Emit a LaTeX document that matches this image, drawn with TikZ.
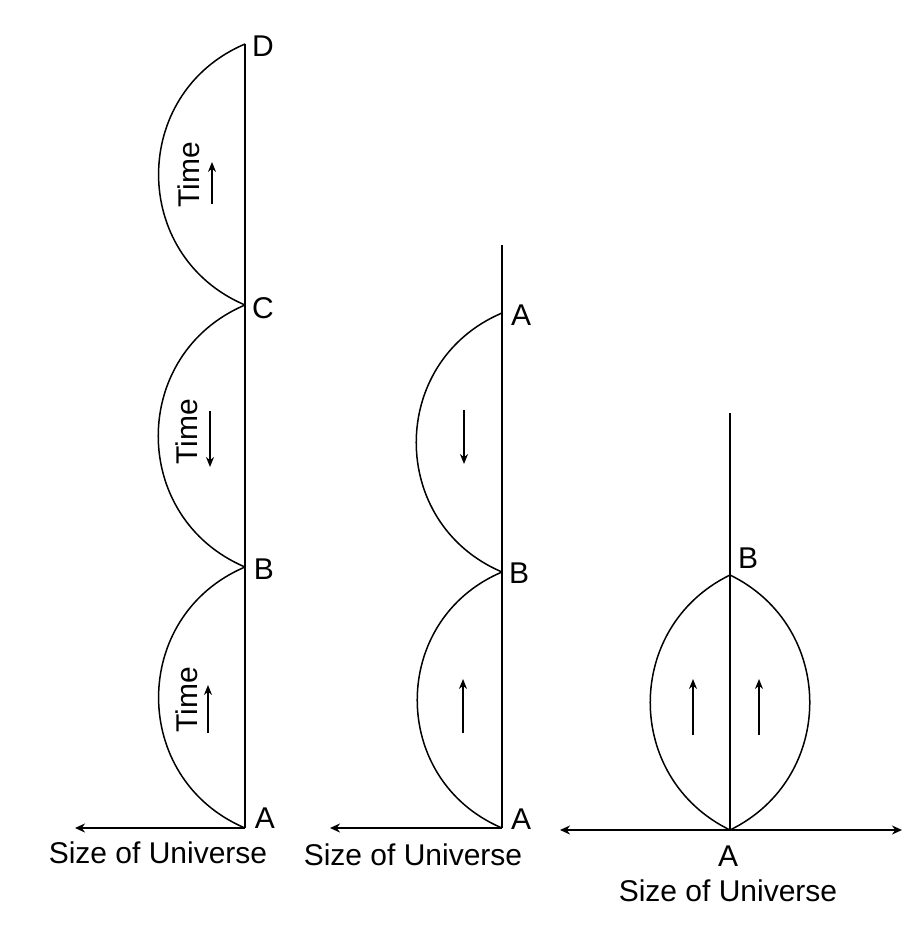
\documentclass[tikz,border=0pt]{standalone}
\usepackage{fontspec}
\setmainfont{Liberation Sans}
\usetikzlibrary{arrows.meta,positioning}

\begin{document}
\begin{tikzpicture}[
  x=0.5pt,
  y=0.5pt,
  font=\fontsize{15}{18}\selectfont,
  axis/.style={line width=0.8pt},
  sizeaxis/.style={axis, -{Stealth[length=5pt,width=4.5pt]}},
  bothaxis/.style={axis, {Stealth[length=5pt,width=4.5pt]}-{Stealth[length=5pt,width=4.5pt]}},
  swing/.style={line width=0.75pt, out=203, in=157, looseness=1.23},
  timearrow/.style={line width=0.7pt, -{Stealth[length=5pt,width=4pt]}},
  ptlabel/.style={inner sep=0pt},
  timelabel/.style={rotate=90, inner sep=0pt}
]
  \useasboundingbox (0,0) rectangle (908,-936);

  % left: repeated cycles
  \coordinate (lD) at (245,-44);
  \coordinate (lC) at (245,-305);
  \coordinate (lB) at (245,-567);
  \coordinate (lA) at (245,-828);
  \coordinate (lEnd) at (75,-828);
  \draw[axis] (lD) -- (lA);
  \draw[sizeaxis] (lA) -- (lEnd);
  \draw[swing] (lD) to (lC);
  \draw[swing] (lC) to (lB);
  \draw[swing] (lB) to (lA);
  \node[ptlabel] (lDl) at (263,-46) {D};
  \node[ptlabel] (lCl) at (263,-308) {C};
  \node[ptlabel] (lBl) at (264,-569) {B};
  \node[ptlabel] (lAl) at (265,-818) {A};
  \node[ptlabel] (lsize) at (158,-853) {Size of Universe};
  \node[timelabel] (time1) at (189,-175) {Time};
  \node[timelabel] (time2) at (187,-432) {Time};
  \node[timelabel] (time3) at (187,-700) {Time};
  \draw[timearrow] (212,-204) -- ++(0,42);
  \draw[timearrow] (210,-411) -- ++(0,-56);
  \draw[timearrow] (208,-733) -- ++(0,48);

  % middle: one cycle, then back
  \coordinate (mTop) at (502,-245);
  \coordinate (mA2) at (502,-313);
  \coordinate (mB) at (502,-572);
  \coordinate (mA) at (502,-828);
  \coordinate (mEnd) at (330,-828);
  \draw[axis] (mTop) -- (mA);
  \draw[sizeaxis] (mA) -- (mEnd);
  \draw[swing] (mA2) to (mB);
  \draw[swing] (mB) to (mA);
  \node[ptlabel] (mA2l) at (521,-315) {A};
  \node[ptlabel] (mBl) at (519,-573) {B};
  \node[ptlabel] (mAl) at (521,-819) {A};
  \node[ptlabel] (msize) at (413,-855) {Size of Universe};
  \draw[timearrow] (464,-410) -- ++(0,-54);
  \draw[timearrow] (463,-733) -- ++(0,54);

  % right: two branches
  \coordinate (rTop) at (730,-413);
  \coordinate (rB) at (730,-575);
  \coordinate (rA) at (730,-830);
  \coordinate (rLeft) at (560,-830);
  \coordinate (rRight) at (902,-830);
  \draw[axis] (rTop) -- (rA);
  \draw[bothaxis] (rLeft) -- (rRight);
  \draw[line width=0.75pt] (rA) to[out=154, in=206, looseness=1.19] (rB);
  \draw[line width=0.75pt] (rA) to[out=26, in=-26, looseness=1.19] (rB);
  \node[ptlabel] (rBl) at (748,-558) {B};
  \node[ptlabel] (rAl) at (728,-856) {A};
  \node[ptlabel, below=12pt of rAl.south, anchor=center] (rsize) {Size of Universe};
  \draw[timearrow] (693,-735) -- ++(0,56);
  \draw[timearrow] (759,-735) -- ++(0,56);
\end{tikzpicture}
\end{document}
